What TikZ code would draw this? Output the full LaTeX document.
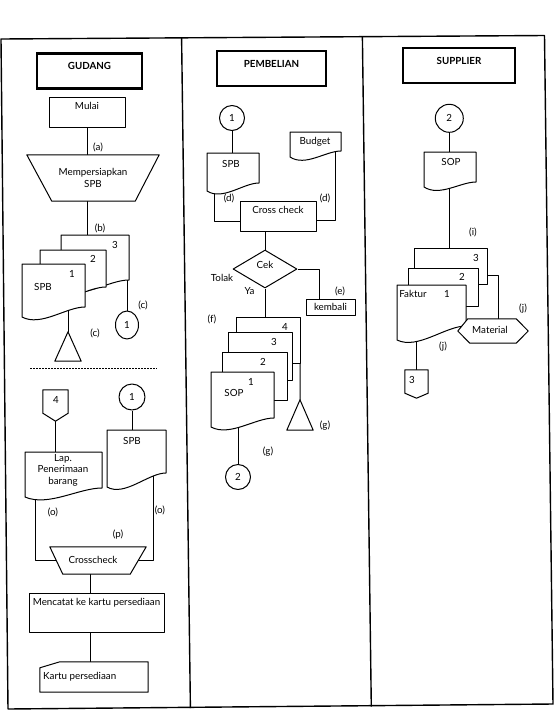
\documentclass[tikz,border=0pt]{standalone}
\usepackage{fontspec}
\setmainfont{Lato}
\usetikzlibrary{shapes.geometric}
\pgfdeclarelayer{bg}
\pgfdeclarelayer{shp}
\pgfsetlayers{bg,shp,main}
\tikzset{
  ln/.style={line width=1pt, line join=round},
  outl/.style={ln, draw, fill=white},
  frame/.style={line width=1.4pt, line join=round},
  sepline/.style={line width=1pt, dash pattern=on 2pt off 1pt},
  tx/.style={inner sep=0pt, font=\fontsize{9.8}{11.5}\selectfont, align=center},
  btx/.style={tx, font=\fontsize{9.8}{11.5}\selectfont\bfseries},
  box/.style={rectangle, ln, draw, fill=white, inner sep=0pt},
  ttl/.style={rectangle, draw, line width=2.6pt, fill=white, inner sep=0pt},
  circ/.style={ellipse, ln, draw, fill=white, inner sep=0pt, font=\fontsize{9.8}{11.5}\selectfont},
  bb/.style={inner sep=0pt, rectangle}
}
\newcommand\flowdoc[6]{%
  \node[bb, minimum width={#4-#2}, minimum height={#5-#3}] (#1) at ({(#2+#4)/2},{(#3+#5)/2}) {};
  \begin{pgfonlayer}{shp}
    \draw[outl] (#2,#3) -- (#4,#3) -- (#4,#6) .. controls ({#4-0.3*(#4-#2)},#6) and ({#2+0.3*(#4-#2)},{#5+10}) .. (#2,#5) -- cycle;
  \end{pgfonlayer}}
\newcommand\flowrect[5]{%
  \node[bb, minimum width={#4-#2}, minimum height={#5-#3}] (#1) at ({(#2+#4)/2},{(#3+#5)/2}) {};
  \begin{pgfonlayer}{shp}\draw[outl] (#2,#3) rectangle (#4,#5);\end{pgfonlayer}}
\begin{document}
\begin{tikzpicture}[x=1pt,y=-1pt]
\useasboundingbox (0,0) rectangle (556,716);
% frame
\draw[frame] (1,39) -- (544.5,35.5) -- (553,704) -- (8,709) -- cycle;
\draw[frame] (181.6,38) -- (190.4,708);
\draw[frame] (362.4,37) -- (371.3,706.5);

% ================= GUDANG =================
\node[ttl, minimum width=105, minimum height=35] (tg) at (89.5,71) {};
\node[btx] (tgt) at (89.5,66) {GUDANG};
\node[box, minimum width=76, minimum height=30] (mulai) at (87,112) {};
\node[tx] (mulait) at (87,106) {Mulai};
\node[tx, minimum width=132, minimum height=46] (mp) at (93,178) {Mempersiapkan\\SPB};
\begin{pgfonlayer}{shp}
\draw[outl] (mp.north west) -- (mp.north east) -- ([xshift=-24pt]mp.south east) -- ([xshift=25pt]mp.south west) -- cycle;
\end{pgfonlayer}
\flowdoc{gd3}{61}{235}{129}{290}{280}
\flowdoc{gd2}{40}{250}{106}{298}{287}
\flowdoc{gd1}{22}{264}{85}{317}{307}
\node[tx] (gd3t) at (115,245) {3};
\node[tx] (gd2t) at (93,259) {2};
\node[tx] (gd1t) at (72,274) {1};
\node[tx] (gd1s) at (43,287) {SPB};
\node[circ, minimum width=23, minimum height=28] (gc1) at (127,325) {1};
\node[bb, minimum width=26, minimum height=29] (gtri) at (68,346.5) {};
\begin{pgfonlayer}{shp}
\draw[outl] (gtri.north) -- (gtri.south east) -- (gtri.south west) -- cycle;
\end{pgfonlayer}
\node[tx] (la) at (98,147) {(a)};
\node[tx] (lb) at (100,228) {(b)};
\node[tx] (lc1) at (143,305) {(c)};
\node[tx] (lc2) at (95,333) {(c)};
\draw[sepline] (30,368) -- (157,368);

\node[bb, minimum width=25, minimum height=31] (og4) at (55.5,405.5) {};
\begin{pgfonlayer}{shp}
\draw[outl] (og4.north west) -- (og4.north east) -- ([yshift=8pt]og4.south east) -- (og4.south) -- ([yshift=8pt]og4.south west) -- cycle;
\end{pgfonlayer}
\node[tx] (og4t) at (56,400) {4};
\flowdoc{glap}{25}{452}{102}{497}{488}
\node[tx] (glapt) at (63,470) {Lap.\\Penerimaan\\barang};
\node[circ, minimum size=26] (gc1b) at (132,397) {1};
\flowdoc{gspb}{107}{430}{166}{487}{473}
\node[tx] (gspbt) at (132,441) {SPB};
\node[bb, minimum width=96, minimum height=27] (gcc) at (98,560.5) {};
\begin{pgfonlayer}{shp}
\draw[outl] (gcc.north west) -- (gcc.north east) -- ([xshift=-16pt]gcc.south east) -- ([xshift=13pt]gcc.south west) -- cycle;
\end{pgfonlayer}
\node[tx] (gcct) at (93,560) {Crosscheck};
\node[tx] (lo1) at (53,512) {(o)};
\node[tx] (lo2) at (160,510) {(o)};
\node[tx] (lp) at (118,535) {(p)};
\node[box, minimum width=135, minimum height=39] (gmc) at (96.5,612.5) {};
\node[tx] (gmct) at (96.5,603) {Mencatat ke kartu persediaan};
\node[bb, minimum width=108, minimum height=30] (gcard) at (94,677) {};
\begin{pgfonlayer}{shp}
\draw[outl] ([yshift=-6pt]gcard.north west) -- ([xshift=20pt]gcard.north west) -- (gcard.north east) -- (gcard.south east) -- (gcard.south west) -- cycle;
\end{pgfonlayer}
\node[tx, anchor=west] (gcardt) at (43,677) {Kartu persediaan};
\coordinate (gx) at (90.5,0);

% ================= PEMBELIAN =================
\node[ttl, minimum width=109, minimum height=35] (tp) at (271.5,68.5) {};
\node[btx] (tpt) at (271.5,64) {PEMBELIAN};
\node[circ, minimum size=25] (pc1) at (232,118) {1};
\flowdoc{pspb}{207}{153}{259}{191}{183}
\node[tx] (pspbt) at (231,164) {SPB};
\flowdoc{pbud}{290}{132}{341}{157}{151}
\node[tx] (pbudt) at (315,142) {Budget};
\node[box, minimum width=76, minimum height=30] (pcc) at (278,216) {};
\node[tx] (pcct) at (278,210) {Cross check};
\node[diamond, ln, draw, fill=white, inner sep=0pt, minimum width=64, minimum height=38] (pdia) at (265,269) {};
\node[tx] (pdiat) at (265,265) {Cek};
\node[box, minimum width=49, minimum height=16] (pkem) at (330.5,307) {};
\node[tx] (pkemt) at (330.5,307) {kembali};
\node[tx] (ltolak) at (222,278) {Tolak};
\node[tx] (lya) at (249.5,291) {Ya};
\node[tx] (le) at (340,291) {(e)};
\node[tx] (lf) at (212,319) {(f)};
\node[tx] (ld1) at (229,198) {(d)};
\node[tx] (ld2) at (325,198) {(d)};
\flowrect{pd4}{236.7}{317}{300}{363.3}
\flowrect{pd3}{228}{332}{292}{380}
\flowrect{pd2}{222}{352}{287}{400}
\flowdoc{pd1}{211}{372}{274}{427}{418}
\node[tx] (pd4t) at (285,327) {4};
\node[tx] (pd3t) at (274,342) {3};
\node[tx] (pd2t) at (263,362) {2};
\node[tx] (pd1t) at (251,382) {1};
\node[tx] (pd1s) at (234,393) {SOP};
\node[bb, minimum width=26, minimum height=30] (ptri) at (300,415) {};
\begin{pgfonlayer}{shp}
\draw[outl] (ptri.north) -- (ptri.south east) -- (ptri.south west) -- cycle;
\end{pgfonlayer}
\node[circ, minimum size=25] (pc2) at (238,477) {2};
\node[tx] (lg1) at (325,426) {(g)};
\node[tx] (lg2) at (268,452) {(g)};

% ================= SUPPLIER =================
\node[ttl, minimum width=112, minimum height=35] (ts) at (459,65.5) {};
\node[btx] (tst) at (459,61) {SUPPLIER};
\node[circ, minimum size=28] (sc2) at (449.3,118.3) {2};
\flowdoc{ssop}{424}{152}{476}{187}{182}
\node[tx] (ssopt) at (451,162) {SOP};
\flowrect{sd3}{414}{248}{487.5}{284}
\flowrect{sd2}{408}{268}{478}{306}
\flowdoc{sd1}{397}{285}{466}{340}{326}
\node[bb, minimum width=70, minimum height=24] (smat) at (493,331) {};
\begin{pgfonlayer}{shp}
\draw[outl] (smat.west) -- ([xshift=10pt]smat.north west) -- ([xshift=-12pt]smat.north east) -- (smat.east) -- ([xshift=-12pt]smat.south east) -- ([xshift=12pt]smat.south west) -- cycle;
\end{pgfonlayer}
\node[tx] (smatt) at (490,330) {Material};
\node[tx] (sd3t) at (476,258) {3};
\node[tx] (sd2t) at (462,277) {2};
\node[tx] (sd1t) at (447,294) {1};
\node[tx] (sd1s) at (413,294) {Faktur};
\node[bb, minimum width=23, minimum height=28] (s3) at (416.5,384) {};
\begin{pgfonlayer}{shp}
\draw[outl] (s3.north west) -- (s3.north east) -- ([yshift=5pt]s3.south east) -- (s3.south) -- ([yshift=5pt]s3.south west) -- cycle;
\end{pgfonlayer}
\node[tx] (s3t) at (412,380) {3};
\node[tx] (li) at (473,232) {(i)};
\node[tx] (lj1) at (523,309) {(j)};
\node[tx] (lj2) at (443,347) {(j)};

% ================= connectors =================
\begin{pgfonlayer}{bg}
\draw[ln] (mulai.south) -- (mulai.south |- mp.north);
\draw[ln] (mp.south -| mulai.south) -- (gd3.north -| mulai.south);
\draw[ln] (gc1.north |- gd3.center) -- (gc1.north);
\draw[ln] (gtri.north |- gd1.center) -- (gtri.north);
\draw[ln] (og4.south) -- (og4.south |- glap.north);
\draw[ln] (gc1b.south) -- (gc1b.south |- gspb.north);
\draw[ln] ([xshift=-28.5pt]glap.center) |- (gcc.center);
\draw[ln] ([xshift=16.5pt]gspb.center) |- (gcc.center);
\draw[ln] (gcc.south -| gx) -- (gmc.north -| gx);
\draw[ln] (gmc.south -| gx) -- (gcard.north -| gx);
\draw[ln] (pc1.south) -- (pc1.south |- pspb.north);
\draw[ln] ([xshift=-18.7pt]pspb.center) |- ([yshift=-5pt]pcc.west);
\draw[ln] ([xshift=19.5pt]pbud.center) |- ([yshift=-4pt]pcc.east);
\draw[ln] (pdia.north |- pcc.south) -- (pdia.north);
\draw[ln] (pdia.east) -| ([xshift=-11.5pt]pkem.north);
\draw[ln] (pdia.south) -- (pdia.south |- pd4.north);
\draw[ln] (pd4.south east) -- (ptri.north);
\draw[ln] (pc2.north |- pd1.center) -- (pc2.north);
\draw[ln] (sc2.south) -- (sc2.south |- ssop.north);
\draw[ln] (sc2.south |- ssop.center) -- (sc2.south |- sd3.north);
\draw[ln] ([yshift=-9pt]sd3.east) -| ([xshift=5pt]smat.north);
\draw[ln] (s3.north |- sd1.center) -- (s3.north);
\end{pgfonlayer}
\end{tikzpicture}
\end{document}
